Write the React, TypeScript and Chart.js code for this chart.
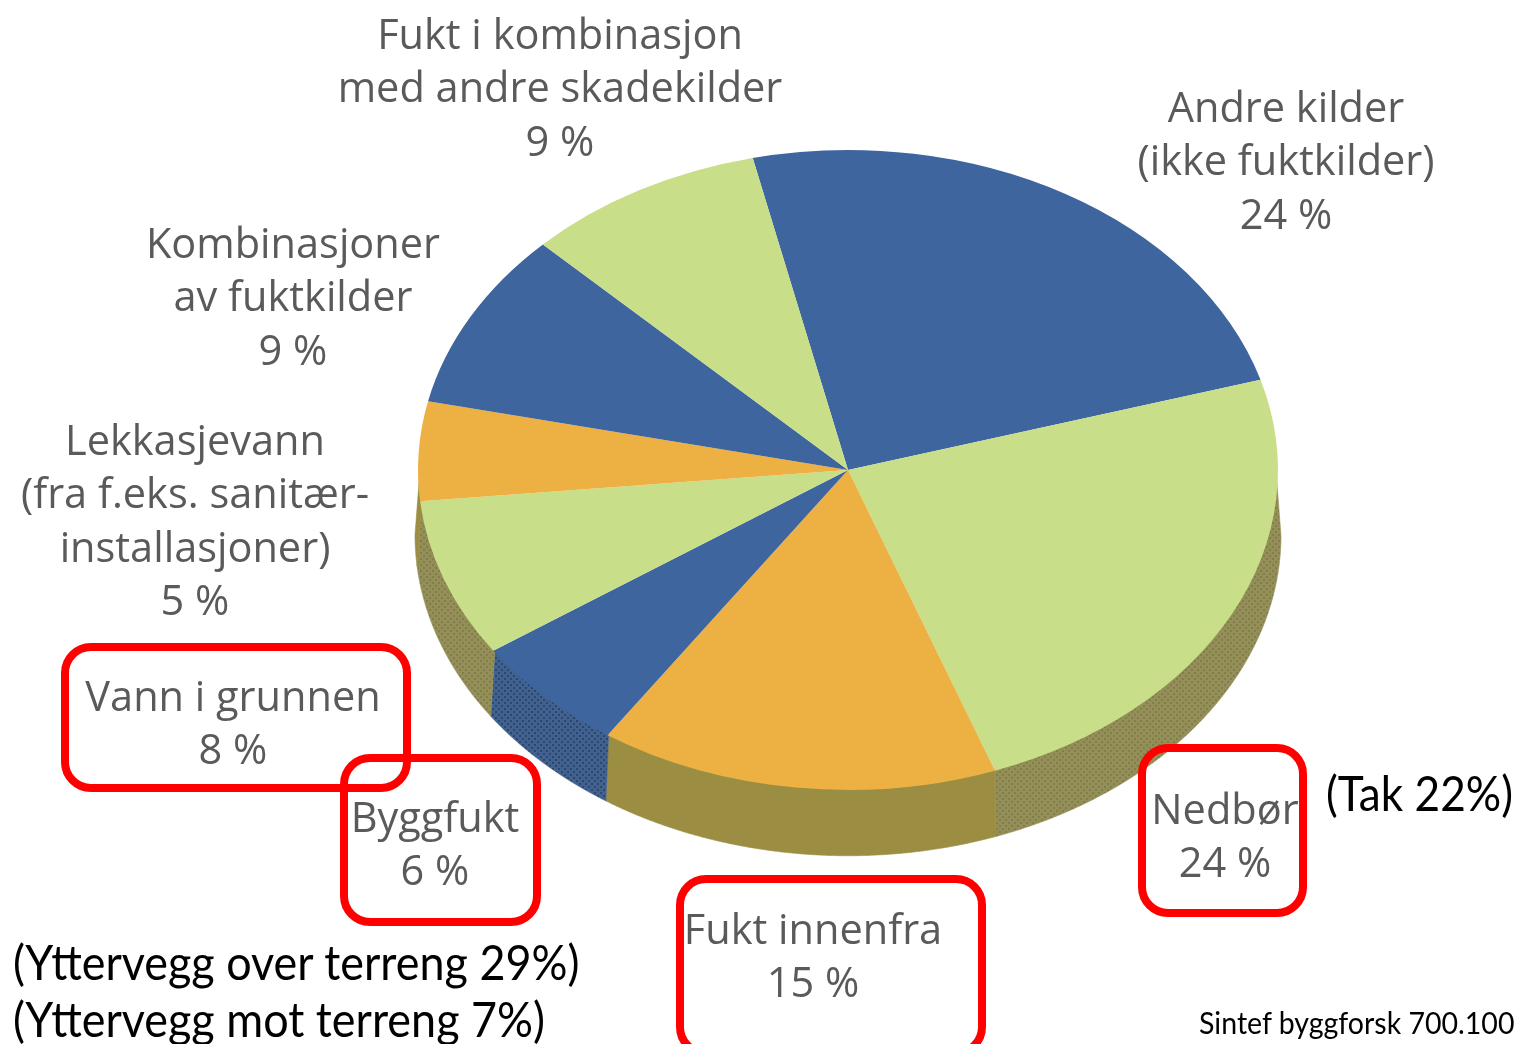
import React, { useEffect, useRef } from "react";
import { Chart, registerables } from "chart.js";

Chart.register(...registerables);

const categories = [
  "Andre kilder\n(ikke fuktkilder)",
  "Nedbør",
  "Fukt innenfra",
  "Byggfukt",
  "Vann i grunnen",
  "Lekkasjevann\n(fra f.eks. sanitær-\ninstallasjoner)",
  "Kombinasjoner\nav fuktkilder",
  "Fukt i kombinasjon\nmed andre skadekilder",
];
const values = [24, 24, 15, 6, 8, 5, 9, 9];
const topColors = ["#3e659e", "#c8de88", "#edb043", "#3e659e", "#c8de88", "#edb043", "#3e659e", "#c8de88"];
const sideColors = ["#40608f", "#948f58", "#9b8d42", "#41628f", "#948f58", "#9b8d42", "#40608f", "#948f58"];
const sideDots = ["#2f4a75", "#827e4a", "#8d8038", "#2c4670", "#827e4a", "#8d8038", "#2f4a75", "#827e4a"];

const labelSpots = [
  { x: 1286, base: 123 },
  { x: 1225, base: 825 },
  { x: 813, base: 945 },
  { x: 435, base: 833 },
  { x: 233, base: 712 },
  { x: 195, base: 456 },
  { x: 293, base: 259 },
  { x: 560, base: 50 },
];
const redBoxes = [
  { l: 61, t: 643, w: 350, h: 149 },
  { l: 340, t: 754, w: 201, h: 172 },
  { l: 1138, t: 744, w: 169, h: 173 },
  { l: 676, t: 875, w: 310, h: 182 },
];
const notes = [
  { text: "(Tak 22%)", l: 1326, base: 811, size: 48, sx: 0.92 },
  { text: "(Yttervegg over terreng 29%)", l: 13, base: 980, size: 48, sx: 0.936 },
  { text: "(Yttervegg mot terreng 7%)", l: 13, base: 1037, size: 48, sx: 0.936 },
  { text: "Sintef byggforsk 700.100", l: 1199, base: 1034, size: 31, sx: 0.92 },
];

const CX = 848;
const CY = 470;
const RX = 430;
const RY = 320;
const DEPTH = 65;
const W = 1519;
const H = 1044;

function dotPattern(ctx: CanvasRenderingContext2D, base: string, dot: string) {
  const c = document.createElement("canvas");
  c.width = 6;
  c.height = 6;
  const g = c.getContext("2d")!;
  g.fillStyle = base;
  g.fillRect(0, 0, 6, 6);
  g.fillStyle = dot;
  g.fillRect(0, 0, 2, 2);
  g.fillRect(3, 3, 2, 2);
  return ctx.createPattern(c, "repeat")!;
}

const pie3d = {
  id: "pie3d",
  beforeDatasetsDraw(chart: any) {
    const ctx: CanvasRenderingContext2D = chart.ctx;
    const k = RY / RX;
    const arcs = chart.getDatasetMeta(0).data;
    arcs.forEach((arc: any, i: number) => {
      const top: [number, number][] = [];
      const bottom: [number, number][] = [];
      const steps = 240;
      for (let s = 0; s <= steps; s++) {
        const a = arc.startAngle + ((arc.endAngle - arc.startAngle) * s) / steps;
        if (Math.sin(a) < -0.001) continue;
        const r = arc.outerRadius;
        top.push([arc.x + Math.cos(a) * (r - 2), CY + Math.sin(a) * (r - 2) * k]);
        bottom.push([arc.x + Math.cos(a) * (r + 3), CY + Math.sin(a) * (r + 1) * k + DEPTH]);
      }
      if (!top.length) return;
      ctx.save();
      ctx.beginPath();
      top.forEach((p, n) => (n ? ctx.lineTo(p[0], p[1]) : ctx.moveTo(p[0], p[1])));
      bottom.reverse().forEach((p) => ctx.lineTo(p[0], p[1]));
      ctx.closePath();
      ctx.fillStyle = i === 2 || i === 5 ? sideColors[i] : dotPattern(ctx, sideColors[i], sideDots[i]);
      ctx.fill();
      ctx.strokeStyle = sideColors[i];
      ctx.lineWidth = 0.6;
      ctx.stroke();
      ctx.restore();
    });
    ctx.save();
    ctx.translate(0, CY);
    ctx.scale(1, k);
    ctx.translate(0, -CY);
  },
  afterDatasetsDraw(chart: any) {
    chart.ctx.restore();
  },
};

export default function App() {
  const ref = useRef<HTMLCanvasElement>(null);
  useEffect(() => {
    const chart = new Chart(ref.current!, {
      type: "pie",
      data: {
        labels: categories.map((c) => c.replace(/\n/g, " ")),
        datasets: [
          {
            data: values,
            backgroundColor: topColors,
            borderWidth: 0,
            clip: false,
          } as any,
        ],
      },
      options: {
        responsive: false,
        animation: false,
        rotation: -12.8,
        layout: {
          padding: { left: CX - RX, right: W - CX - RX, top: CY - RX, bottom: H - CY - RX },
        },
        plugins: { legend: { display: false }, tooltip: { enabled: false } },
      },
      plugins: [pie3d],
    } as any);
    return () => chart.destroy();
  }, []);

  return (
    <div style={{ position: "fixed", left: 0, top: 0, width: W, height: H, overflow: "hidden", background: "#fff" }}>
      <canvas ref={ref} width={W} height={H} style={{ position: "absolute", left: 0, top: 0 }} />
      {categories.map((c, i) => {
        const lines = [...c.split("\n"), `${values[i]} %`];
        return (
          <div
            key={c}
            style={{
              position: "absolute",
              left: labelSpots[i].x - 300,
              width: 600,
              top: labelSpots[i].base - 43,
              textAlign: "center",
              font: "400 41.5px/53.3px 'Open Sans', sans-serif",
              color: "#5a5a5a",
              filter: "blur(0.6px)",
              whiteSpace: "pre",
            }}
          >
            {lines.join("\n")}
          </div>
        );
      })}
      {redBoxes.map((b, i) => (
        <div
          key={i}
          style={{
            position: "absolute",
            left: b.l,
            top: b.t,
            width: b.w,
            height: b.h,
            boxSizing: "border-box",
            border: "8px solid #ff0000",
            borderRadius: 30,
          }}
        />
      ))}
      {notes.map((n) => (
        <div
          key={n.text}
          style={{
            position: "absolute",
            left: n.l,
            top: n.base - n.size,
            font: `400 ${n.size}px/${n.size * 1.25}px Lato, sans-serif`,
            color: "#000",
            whiteSpace: "pre",
            transform: `scaleX(${n.sx})`,
            transformOrigin: "left top",
          }}
        >
          {n.text}
        </div>
      ))}
    </div>
  );
}
